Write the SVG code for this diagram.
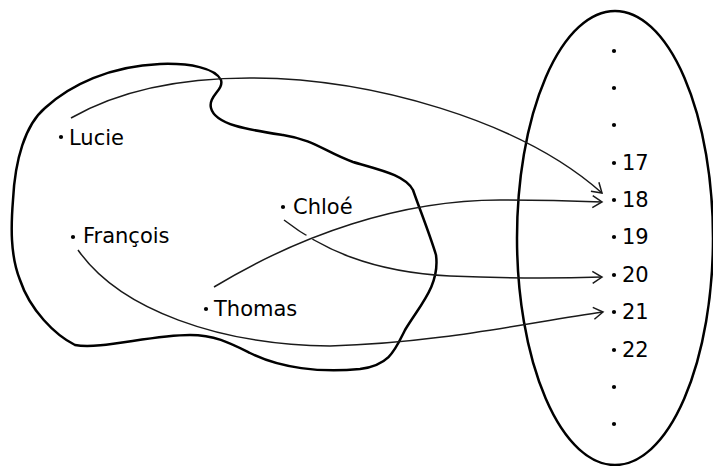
<svg xmlns="http://www.w3.org/2000/svg" width="713" height="466" viewBox="0 0 713 466">
<style>
.set{fill:none;stroke:#000;stroke-width:2.5}
.lbl{font-family:"DejaVu Sans",Verdana,sans-serif;font-size:21px;fill:#000}
.dot{fill:#000}
.conn{fill:none;stroke:#1a1a1a;stroke-width:1.5}
</style>
<defs>
<marker id="arr" markerUnits="userSpaceOnUse" markerWidth="14" markerHeight="14" viewBox="-12 -7 14 14" refX="0" refY="0" orient="auto">
<path d="M -9.5,-6 L 0,0 L -9.5,6" fill="none" stroke="#1a1a1a" stroke-width="1.5"/>
</marker>
</defs>
<rect width="713" height="466" fill="#fff"/>
<g id="set-people">
<path class="set" d="M 13,200 C 15,160 25,125 45,108 C 70,85 110,66 160,64 C 190,63 215,68 221,80 C 224,90 208,96 211,108 C 215,125 250,130 283,135 C 315,140 325,152 353,162 C 380,170 405,175 413,190 C 420,210 430,235 436,255 C 440,285 420,305 405,330 C 395,350 390,365 360,369 C 320,373 280,368 250,353 C 230,343 215,335 190,335 C 150,335 100,350 75,345 C 55,335 30,310 20,280 C 10,255 11,225 13,200 Z"/>
</g>
<g id="set-ages">
<ellipse class="set" cx="615" cy="238" rx="98" ry="227"/>
</g>
<g id="lucie"><circle class="dot" cx="61" cy="137" r="2.1"/><text class="lbl" x="69" y="145">Lucie</text></g>
<g id="francois"><circle class="dot" cx="73" cy="237" r="2.1"/><text class="lbl" x="83" y="243">François</text></g>
<g id="chloe"><circle class="dot" cx="283" cy="207" r="2.1"/><text class="lbl" x="293" y="214">Chloé</text></g>
<g id="thomas"><circle class="dot" cx="206" cy="309" r="2.1"/><text class="lbl" x="214" y="316">Thomas</text></g>
<g id="dots-top">
<circle class="dot" cx="614" cy="51" r="2.1"/>
<circle class="dot" cx="614" cy="88" r="2.1"/>
<circle class="dot" cx="614" cy="125" r="2.1"/>
</g>
<g id="n17"><circle class="dot" cx="614" cy="163" r="2.1"/><text class="lbl" x="622" y="170">17</text></g>
<g id="n18"><circle class="dot" cx="614" cy="200" r="2.1"/><text class="lbl" x="622" y="207">18</text></g>
<g id="n19"><circle class="dot" cx="614" cy="237" r="2.1"/><text class="lbl" x="622" y="244">19</text></g>
<g id="n20"><circle class="dot" cx="614" cy="275" r="2.1"/><text class="lbl" x="622" y="282">20</text></g>
<g id="n21"><circle class="dot" cx="614" cy="312" r="2.1"/><text class="lbl" x="622" y="319">21</text></g>
<g id="n22"><circle class="dot" cx="614" cy="350" r="2.1"/><text class="lbl" x="622" y="357">22</text></g>
<g id="dots-bottom">
<circle class="dot" cx="614" cy="387" r="2.1"/>
<circle class="dot" cx="614" cy="424" r="2.1"/>
</g>
<g id="connectors">
<path class="conn" marker-end="url(#arr)" d="M 71,118 C 120,90 180,78 250,78 C 370,78 520,120 602,193"/>
<path class="conn" marker-end="url(#arr)" d="M 284,220 C 320,248 370,272 450,276 C 520,279 570,278 602,277"/>
<line x1="299" y1="242.5" x2="323" y2="230.5" stroke="#fff" stroke-width="6"/>
<path class="conn" marker-end="url(#arr)" d="M 214,287 C 300,235 400,200 500,200 C 540,200 575,201 602,202"/>
<path class="conn" marker-end="url(#arr)" d="M 78,250 C 120,310 220,345 330,346 C 440,343 530,322 603,312"/>
</g>
</svg>
